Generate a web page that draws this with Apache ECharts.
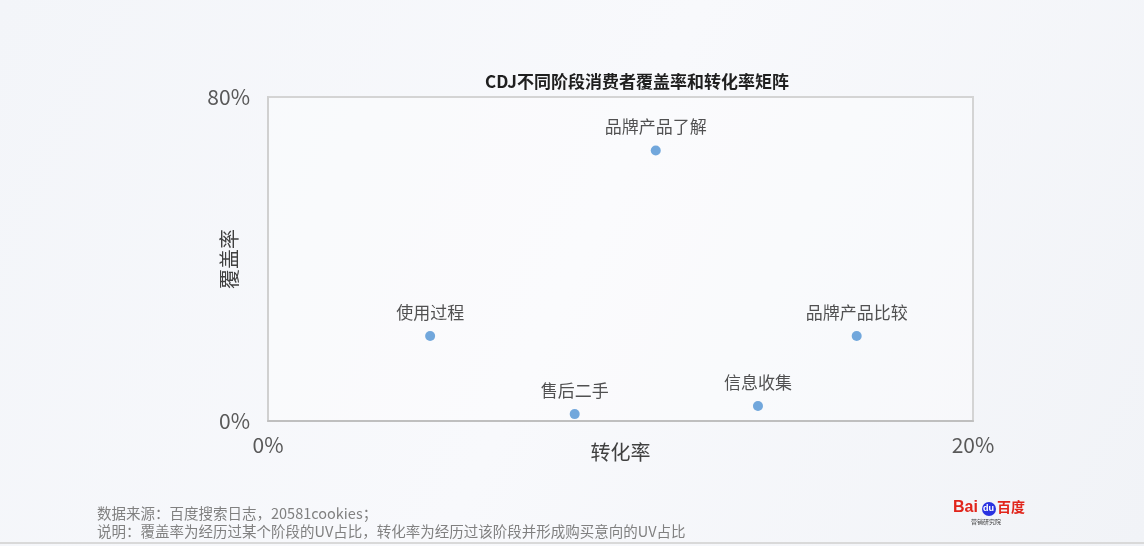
<!DOCTYPE html>
<html><head><meta charset="utf-8">
<script src="https://cdn.jsdelivr.net/npm/echarts@6/dist/echarts.min.js"></script>
<style>html,body{margin:0;padding:0;}#c{width:1144px;height:546px;}</style>
</head><body><div id="c"></div>
<script>
const stageNames = ['品牌产品了解', '使用过程', '品牌产品比较', '售后二手', '信息收集'];
const conversionRate = [11.0, 4.6, 16.7, 8.7, 13.9];   // %
const coverageRate = [66.8, 21.0, 21.0, 1.7, 3.7];     // %
const xTicks = [0, 20];
const yTicks = [0, 80];
const titleText = 'CDJ不同阶段消费者覆盖率和转化率矩阵';
const footLines = ['数据来源：百度搜索日志，20581cookies；', '说明：覆盖率为经历过某个阶段的UV占比，转化率为经历过该阶段并形成购买意向的UV占比'];

const font = '"Noto Sans CJK SC", "Noto Sans", sans-serif';
const chart = echarts.init(document.getElementById('c'));
chart.setOption({
  backgroundColor: {
    type: 'linear', x: 0, y: 0, x2: 1, y2: 1,
    colorStops: [{offset: 0, color: '#f3f5f9'}, {offset: 0.5, color: '#f8f9fc'}, {offset: 1, color: '#f1f3f7'}]
  },
  textStyle: {fontFamily: font},
  title: {
    text: titleText, left: 632, top: 68, textAlign: 'center',
    textStyle: {fontSize: 17, fontWeight: 'bold', color: '#1f1f1f', fontFamily: font}
  },
  grid: {left: 268, top: 97, width: 705, height: 324, show: true, borderColor: '#d4d4d4', borderWidth: 2, backgroundColor: 'rgba(255,255,255,0.35)'},
  xAxis: {
    type: 'value', min: xTicks[0], max: xTicks[1], interval: xTicks[1] - xTicks[0],
    name: '转化率', nameLocation: 'middle', nameGap: 21, nameMoveOverlap: false,
    nameTextStyle: {fontSize: 20, color: '#404040', fontFamily: font},
    axisLine: {show: true, lineStyle: {color: '#bfbfbf', width: 2}},
    axisTick: {show: false}, splitLine: {show: false},
    axisLabel: {fontSize: 21, color: '#595959', margin: 14, formatter: v => v + '%', fontFamily: font}
  },
  yAxis: {
    type: 'value', min: yTicks[0], max: yTicks[1], interval: yTicks[1] - yTicks[0],
    name: '覆盖率', nameLocation: 'middle', nameGap: 29, nameRotate: 90, nameMoveOverlap: false,
    nameTextStyle: {fontSize: 20, color: '#404040', fontFamily: font},
    axisLine: {show: true, lineStyle: {color: '#d0d0d0', width: 2}},
    axisTick: {show: false}, splitLine: {show: false},
    axisLabel: {fontSize: 21, color: '#595959', margin: 18, formatter: v => v + '%', fontFamily: font}
  },
  series: [{
    type: 'scatter', symbolSize: 10,
    itemStyle: {color: '#4f92d3'},
    label: {show: true, position: 'top', distance: 10, fontSize: 17, color: '#262626', fontFamily: font,
      formatter: p => p.data.name},
    data: stageNames.map((n, i) => ({name: n, value: [conversionRate[i], coverageRate[i]]}))
  }],
  graphic: [
    {type: 'text', left: 97, top: 506, style: {text: footLines[0], fontSize: 14.5, fill: '#808080', fontFamily: font}},
    {type: 'text', left: 97, top: 524, style: {text: footLines[1], fontSize: 14.5, fill: '#808080', fontFamily: font}},
    {type: 'line', shape: {x1: 0, y1: 543, x2: 1144, y2: 543}, style: {stroke: '#d9d9d9', lineWidth: 2}},
    {type: 'text', left: 953, top: 500, style: {text: 'Bai', fontSize: 16, fontWeight: 'bold', fill: '#e1251b', fontFamily: 'Liberation Sans'}},
    {type: 'circle', shape: {cx: 989, cy: 509, r: 7}, style: {fill: '#2932e1'}},
    {type: 'text', left: 983, top: 504, style: {text: 'du', fontSize: 9, fontWeight: 'bold', fill: '#fff', fontFamily: 'Liberation Sans'}},
    {type: 'text', left: 997, top: 500, style: {text: '百度', fontSize: 14, fontWeight: 'bold', fill: '#e1251b', fontFamily: font}},
    {type: 'text', left: 971, top: 519, style: {text: '营销研究院', fontSize: 6, fill: '#444', fontFamily: font}}
  ]
});
</script></body></html>
